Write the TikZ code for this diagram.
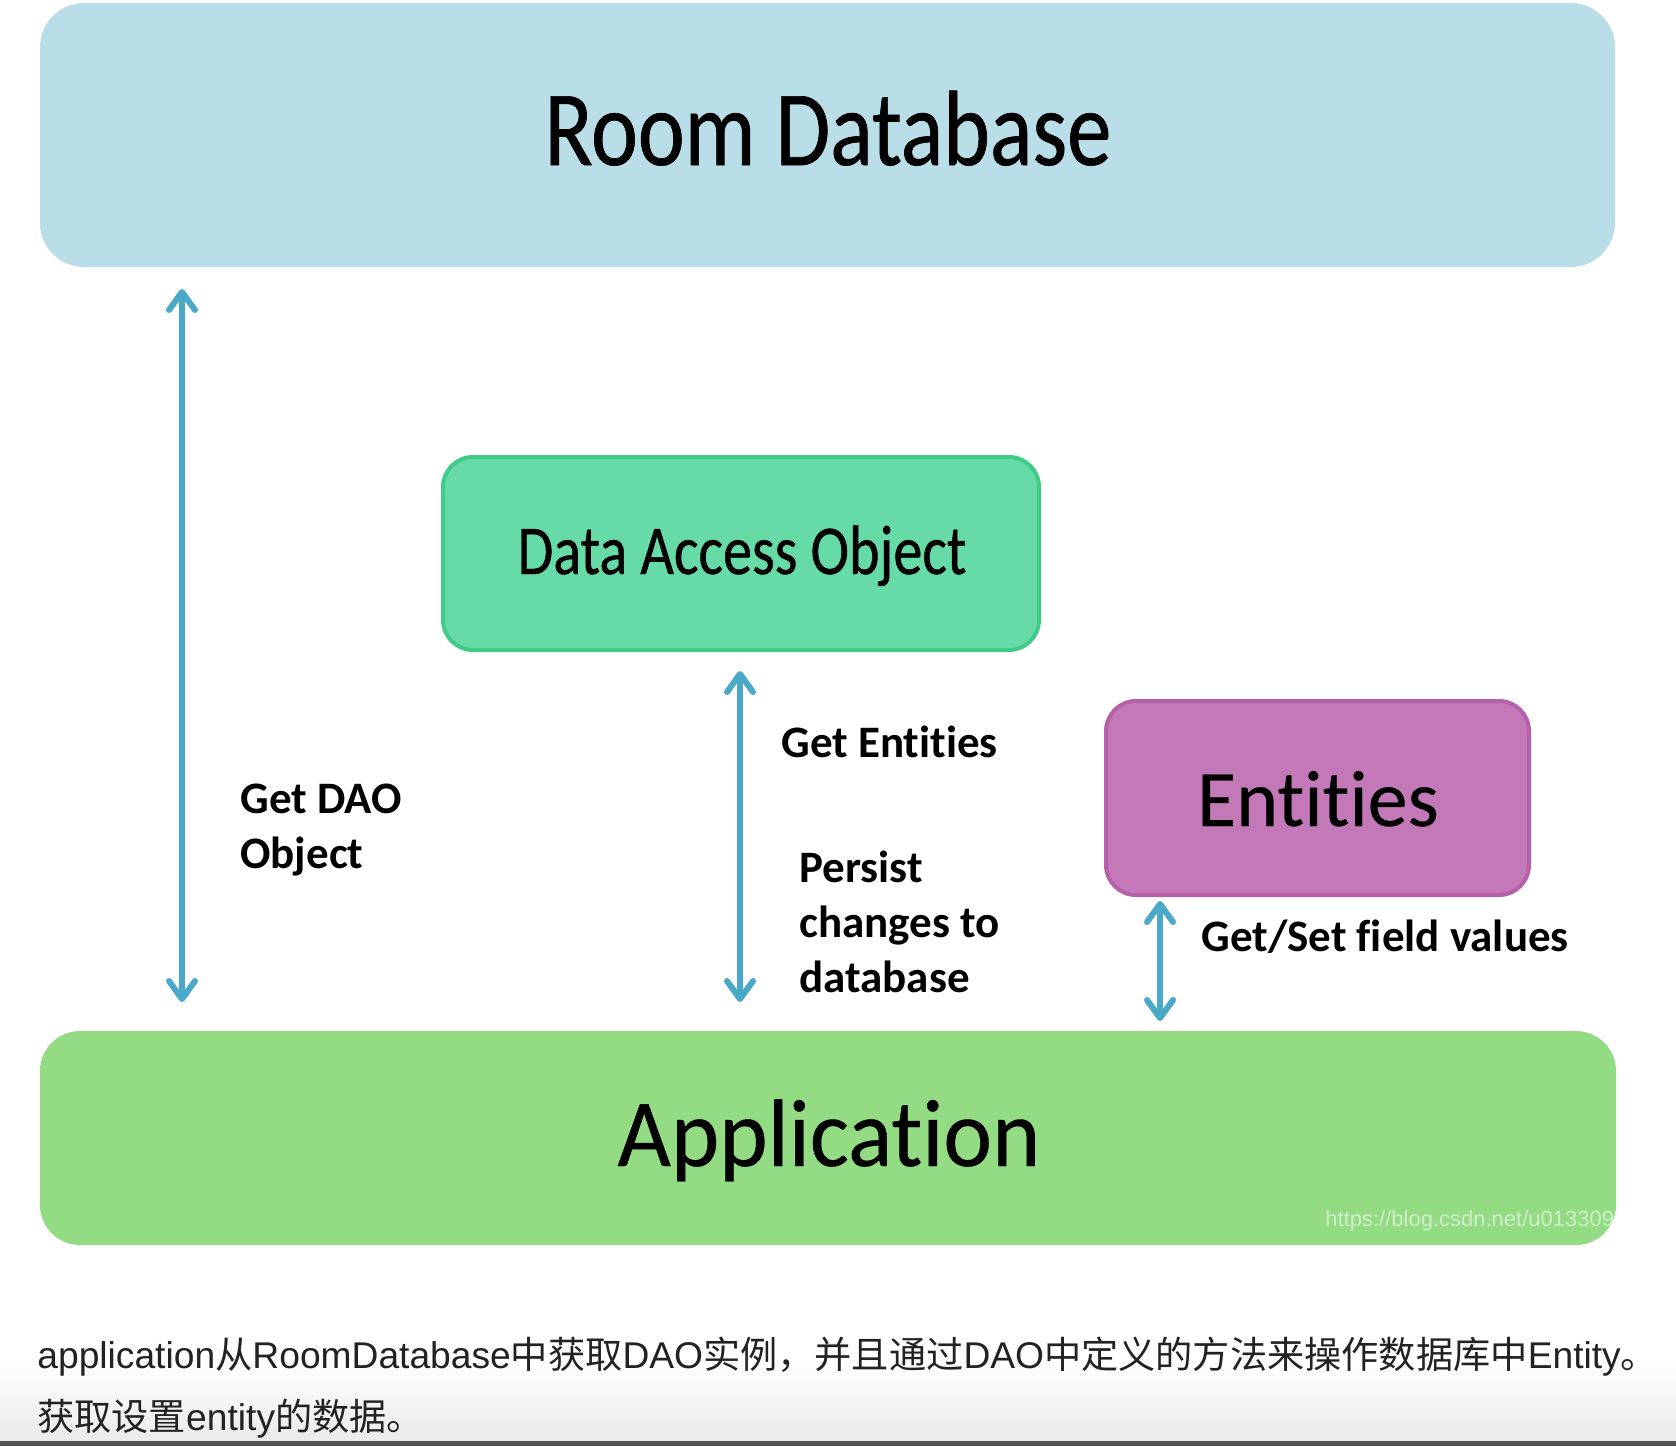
\documentclass[tikz,border=0pt]{standalone}
\usepackage{fontspec}
\setmainfont[Ligatures=NoCommon]{Carlito}
\newfontfamily\rdfont[FakeStretch=0.83,FakeBold=0.6,Ligatures=NoCommon]{Carlito}
\newfontfamily\appfont[FakeStretch=0.96,FakeBold=0.4,Ligatures=NoCommon]{Carlito}
\newfontfamily\entfont[FakeBold=0.3,Ligatures=NoCommon]{Carlito}
\newfontfamily\cjk{Noto Sans CJK SC}
\newfontfamily\wmfont{Liberation Sans}
\newcommand\lat[1]{{\wmfont #1}}
\usetikzlibrary{arrows.meta}
\definecolor{rdfill}{HTML}{B9DEE7}
\definecolor{daofill}{HTML}{67DBA7}
\definecolor{daoline}{HTML}{40CC88}
\definecolor{entfill}{HTML}{C379B8}
\definecolor{entline}{HTML}{B660AA}
\definecolor{appfill}{HTML}{93DC83}
\definecolor{arrowc}{HTML}{4AA9C9}
\definecolor{textc}{HTML}{222222}
\definecolor{barc}{HTML}{555555}
\begin{document}
\begin{tikzpicture}[x=0.5pt,y=-0.5pt,
  box/.style={rectangle, inner sep=0pt, outer sep=0pt},
  lbl/.style={anchor=base west, inner sep=0pt, font=\bfseries\fontsize{22.5pt}{27pt}\selectfont},
  big/.style={anchor=base, inner sep=0pt},
  captext/.style={anchor=base west, inner sep=0pt, text=textc, font=\cjk\fontsize{18.6pt}{24pt}\selectfont},
  arr/.style={draw=arrowc, line width=3pt, line cap=round,
    {Straight Barb[length=9pt,width=13pt,round]}-{Straight Barb[length=9pt,width=13pt,round]}}]
\useasboundingbox (0,0) rectangle (1676,1446);
% bottom page gradient
\shade[top color=white, bottom color=black!8] (0,1360) rectangle (1676,1441);
\fill[barc] (0,1441) rectangle (1676,1446);
% boxes
\node[box, fill=rdfill, minimum width=787.5pt, minimum height=132pt, rounded corners=22pt] (rd) at (827.5,135) {};
\node[box, fill=daofill, draw=daoline, line width=2pt, minimum width=298pt, minimum height=96.5pt, rounded corners=15pt] (dao) at (741,553.5) {};
\node[box, fill=entfill, draw=entline, line width=2pt, minimum width=211.5pt, minimum height=97pt, rounded corners=15pt] (ent) at (1317.5,798) {};
\node[box, fill=appfill, minimum width=788pt, minimum height=107pt, rounded corners=20pt] (app) at (828,1138) {};
% watermark
\begin{scope}
\clip[rounded corners=20pt] (40,1031) rectangle (1616,1245);
\node[anchor=base west, inner sep=0pt, text=white, text opacity=0.55, font=\wmfont\fontsize{11pt}{13pt}\selectfont] (wm) at (1325,1226) {https://blog.csdn.net/u013309};
\end{scope}
% box texts
\node[big, font=\rdfont\fontsize{53.5pt}{60pt}\selectfont] (rdt) at (828,165) {Room Database};
\node[big, font=\rdfont\fontsize{35pt}{40pt}\selectfont] (daot) at (742,574) {Data Access Object};
\node[big, font=\entfont\fontsize{40pt}{46pt}\selectfont] (entt) at (1318,826) {Entities};
\node[big, font=\appfont\fontsize{48pt}{54pt}\selectfont] (appt) at (829,1166) {Application};
% connectors
\coordinate (xa) at (182,0);
\coordinate (xb) at (740,0);
\coordinate (xc) at (1160,0);
\draw[arr, shorten <=11pt, shorten >=14.5pt] (rd.south -| xa) -- (app.north -| xa);
\draw[arr, shorten <=10.5pt, shorten >=14.5pt] (dao.south -| xb) -- (app.north -| xb);
\draw[arr, shorten <=3pt, shorten >=5pt] (ent.south -| xc) -- (app.north -| xc);
% labels
\node[lbl] (l1a) at (240,813) {Get DAO};
\node[lbl] (l1b) at (240,868) {Object};
\node[lbl] (l2) at (781,757) {Get Entities};
\node[lbl] (l3a) at (799,882) {Persist};
\node[lbl] (l3b) at (799,937) {changes to};
\node[lbl] (l3c) at (799,992) {database};
\node[lbl] (l4) at (1201,951) {Get/Set field values};
% caption
\node[captext] (c1) at (37,1368) {\lat{application}从\lat{RoomDatabase}中获取\lat{DAO}实例，并且通过\lat{DAO}中定义的方法来操作数据库中\lat{Entity}。};
\node[captext] (c2) at (37,1430) {获取设置\lat{entity}的数据。};
\end{tikzpicture}
\end{document}
